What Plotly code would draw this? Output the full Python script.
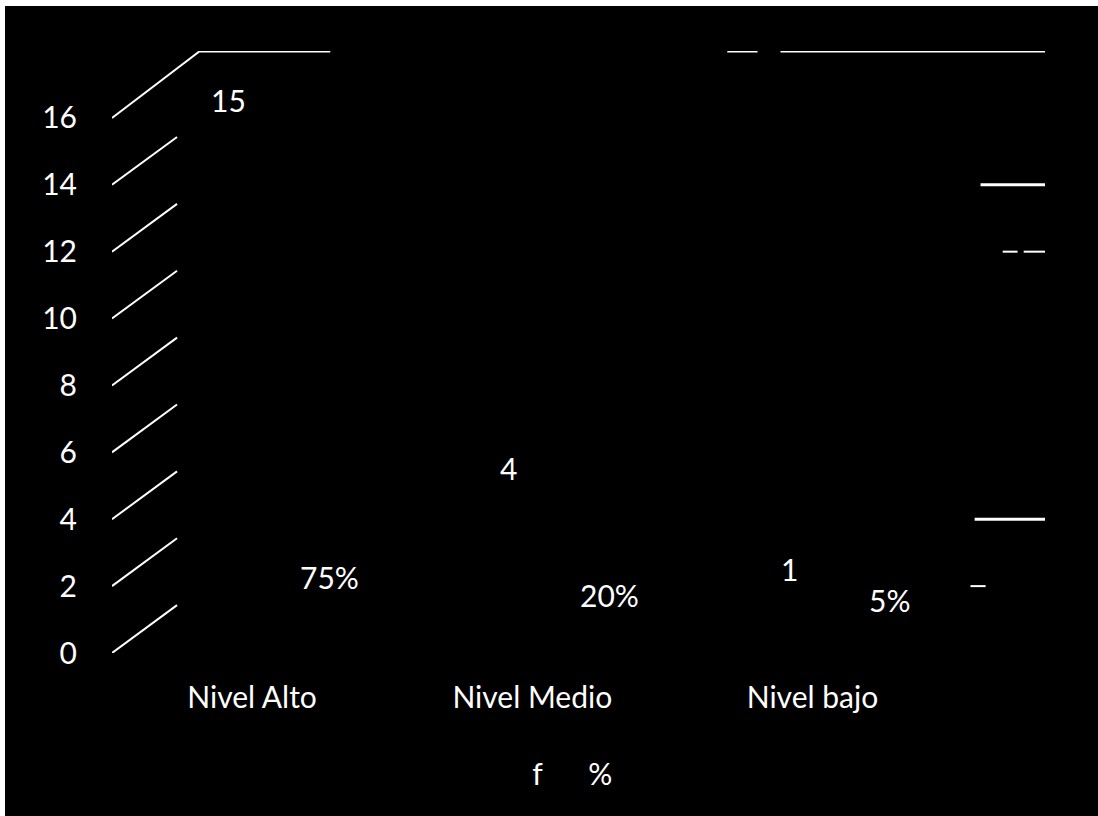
import plotly.graph_objects as go

# Chart data
categories = ["Nivel Alto", "Nivel Medio", "Nivel bajo"]
f_values = [15, 4, 1]
pct_values = [0.75, 0.20, 0.05]
pct_labels = ["75%", "20%", "5%"]
y_ticks = [0, 2, 4, 6, 8, 10, 12, 14, 16]

FONT = "Lato"
FSIZE = 30
WHITE = "white"
BLACK = "black"

W, H = 1098, 816
M_L, M_R, M_T, M_B = 112, 53, 51, 163
X_RANGE = [-0.5, 2.83]
Y_RANGE = [0, 18]

fig = go.Figure()

# Two bar series, black on the black background
BAR_W = 0.30
fig.add_trace(go.Bar(
    name="f", x=list(range(len(categories))), y=f_values,
    width=BAR_W, offset=-0.18 - BAR_W / 2,
    marker=dict(color=BLACK, line=dict(width=0)),
))
fig.add_trace(go.Bar(
    name="%", x=list(range(len(categories))), y=pct_values,
    width=BAR_W, offset=0.18 - BAR_W / 2,
    marker=dict(color=BLACK, line=dict(width=0)),
))

# Value labels floating above each bar's top (3D depth shift)
annotations = []
for i, (fv, pv, pl) in enumerate(zip(f_values, pct_values, pct_labels)):
    annotations.append(dict(x=i - 0.18, y=fv, text=str(fv), showarrow=False,
                            xshift=27, yshift=51, font=dict(family=FONT, size=FSIZE, color=WHITE)))
    annotations.append(dict(x=i + 0.18, y=pv, text=pl, showarrow=False,
                            xshift=27, yshift=51, font=dict(family=FONT, size=FSIZE, color=WHITE)))

# 3D wall: diagonal side-wall lines at each tick, back-wall fragments
shapes = []
depth_x = 65 / 280
depth_y = 1.43
for v in y_ticks:
    if v == y_ticks[-1]:
        shapes.append(dict(type="line", xref="x", yref="y", x0=-0.5, y0=v,
                           x1=-0.186, y1=v + 2, line=dict(color=WHITE, width=2)))
    else:
        shapes.append(dict(type="line", xref="x", yref="y", x0=-0.5, y0=v,
                           x1=-0.5 + depth_x, y1=v + depth_y, line=dict(color=WHITE, width=2)))

back_segments = [
    (18, -0.186, 0.279, 3),
    (18, 1.696, 1.804, 3),
    (18, 1.886, 2.83, 3),
    (14, 2.60, 2.83, 3),
    (12, 2.679, 2.732, 2),
    (12, 2.754, 2.83, 2),
    (4, 2.579, 2.83, 3),
    (2, 2.564, 2.618, 2),
]
for yv, xa, xb, lw in back_segments:
    shapes.append(dict(type="line", xref="x", yref="y", x0=xa, x1=xb, y0=yv, y1=yv,
                       line=dict(color=WHITE, width=lw)))

# White scanner edge along the top and left
pw = (W - M_L - M_R)
ph = (H - M_T - M_B)
shapes.append(dict(type="rect", xref="paper", yref="paper",
                   x0=-M_L / pw, x1=(5 - M_L) / pw, y0=-M_B / ph, y1=1 + M_T / ph,
                   fillcolor=WHITE, line=dict(width=0), layer="above"))
shapes.append(dict(type="rect", xref="paper", yref="paper",
                   x0=-M_L / pw, x1=1 + M_R / pw, y0=1 + (M_T - 6) / ph, y1=1 + M_T / ph,
                   fillcolor=WHITE, line=dict(width=0), layer="above"))

fig.update_layout(
    width=W, height=H,
    margin=dict(l=M_L, r=M_R, t=M_T, b=M_B),
    paper_bgcolor=BLACK, plot_bgcolor=BLACK,
    barmode="group",
    font=dict(family=FONT, size=FSIZE, color=WHITE),
    xaxis=dict(range=X_RANGE, tickvals=list(range(len(categories))), ticktext=categories,
               showgrid=False, zeroline=False, showline=False,
               ticks="outside", ticklen=18, tickcolor=BLACK,
               tickfont=dict(family=FONT, size=FSIZE, color=WHITE)),
    yaxis=dict(range=Y_RANGE, tickvals=y_ticks, showgrid=False, zeroline=False, showline=False,
               ticks="outside", ticklen=28, tickcolor=BLACK,
               tickfont=dict(family=FONT, size=FSIZE, color=WHITE)),
    legend=dict(orientation="h", x=0.475, xanchor="center", y=-0.199, yanchor="middle",
                font=dict(family=FONT, size=FSIZE, color=WHITE), bgcolor="rgba(0,0,0,0)"),
    annotations=annotations,
    shapes=shapes,
)

fig.write_html("out.html", post_script="document.body.style.background='black';")
